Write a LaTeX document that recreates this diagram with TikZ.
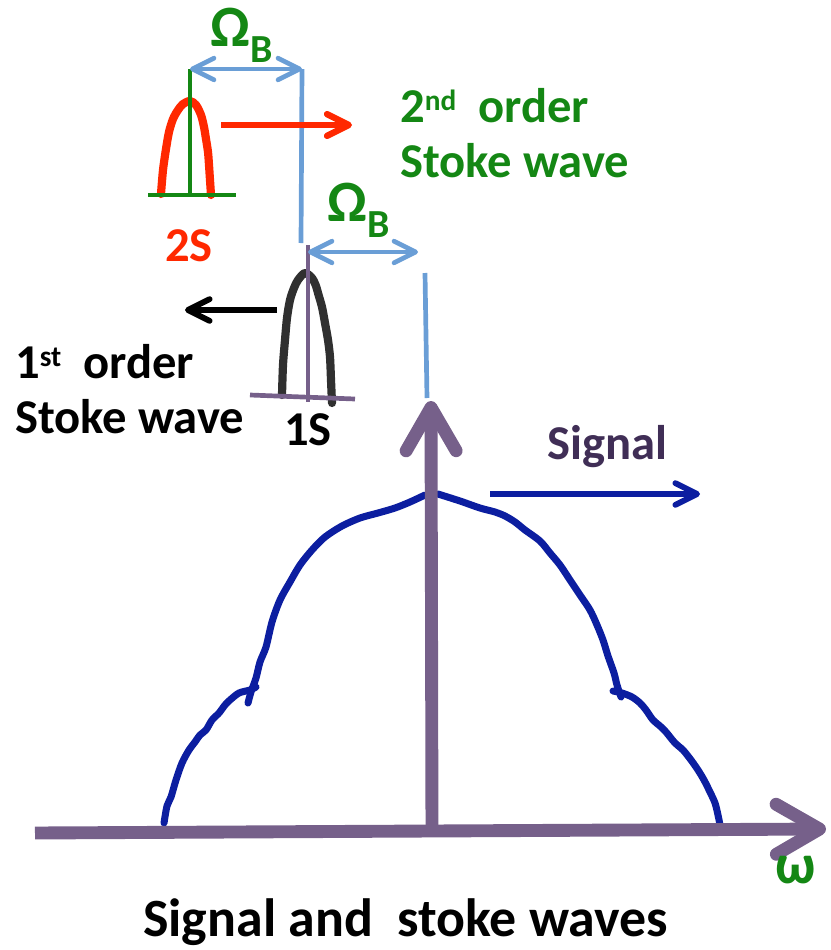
\documentclass[tikz,border=0pt]{standalone}
\usepackage{fontspec}
\setmainfont{Carlito}
\usetikzlibrary{arrows.meta}

\definecolor{sbsgreen}{RGB}{20,135,20}
\definecolor{sbsred}{RGB}{255,40,0}
\definecolor{sbssky}{RGB}{106,158,214}
\definecolor{sbspurple}{RGB}{118,96,138}
\definecolor{sbsblue}{RGB}{12,30,160}
\definecolor{sbsink}{RGB}{64,46,86}
\definecolor{sbsgray}{RGB}{48,48,48}

\newcommand{\omB}{{\fontsize{50}{50}\selectfont Ω}\raisebox{-14pt}{\fontsize{34}{34}\selectfont B}}
\newcommand{\sups}[1]{\raisebox{10pt}{\fontsize{25}{25}\selectfont #1}}

\begin{document}
\begin{tikzpicture}[x=0.03cm,y=-0.03cm,
  lbl/.style={inner sep=0pt,anchor=base west,font=\bfseries\fontsize{41.5}{48}\selectfont},
  barb/.style={-{Straight Barb[length=6.5mm,width=6.5mm,round]}},
  gapline/.style={draw=sbssky,line width=4pt,{Straight Barb[length=6.5mm,width=6.5mm,round]}-{Straight Barb[length=6.5mm,width=6.5mm,round]}},
  axisline/.style={draw=sbspurple,line width=11pt,-{Straight Barb[length=13mm,width=15mm,round]}},
  pulse/.style={line width=7pt,line cap=round,line join=round},
]
\useasboundingbox (0,0) rectangle (830,950);

% points
\coordinate (origin) at (432,836);
\coordinate (wleft) at (35,833);
\coordinate (wright) at (826,829);
\coordinate (wtop) at (431,401);
\coordinate (s2top) at (190,69);
\coordinate (s2bot) at (190,195);
\coordinate (s2baseL) at (148,195);
\coordinate (s2baseR) at (236,195);
\coordinate (s1top) at (308,245);
\coordinate (s1bot) at (308,402);
\coordinate (s1baseL) at (250,395);
\coordinate (s1baseR) at (355,399);
\coordinate (markA) at (302,69);
\coordinate (markAbot) at (301,243);
\coordinate (gapB1) at (308,252);
\coordinate (gapB2) at (418,252);
\coordinate (markB) at (425,273);
\coordinate (markBbot) at (427,398);

% signal spectrum
\draw[sbsblue,pulse,line width=6pt] plot[smooth] coordinates {(164,823) (167,806) (171,797) (176,780) (182,763) (189,750) (195,742) (200,735) (206,730) (212,720) (219,713) (225,705) (230,700) (239,693) (250,690) (256,687)};
\draw[sbsblue,pulse,line width=6pt] plot[smooth] coordinates {(248,703) (251,692) (256,678) (260,662) (266,647) (272,622) (280,600) (290,582) (300,565) (312,550) (325,537) (342,526) (360,518) (378,513) (395,508) (410,502) (425,495)};
\draw[sbsblue,pulse,line width=6pt] plot[smooth] coordinates {(438,494) (460,501) (480,508) (495,512) (505,516) (515,522) (525,530) (540,541) (550,553) (560,565) (570,580) (580,595) (590,610) (597,625) (603,640) (608,656) (614,673) (617,685) (621,697)};
\draw[sbsblue,pulse,line width=6pt] plot[smooth] coordinates {(613,691) (622,693) (632,697) (640,703) (646,710) (653,720) (660,726) (666,732) (675,743) (683,750) (691,760) (698,770) (704,780) (710,792) (715,803) (718,815) (721,830)};

% axes
\draw[axisline] (wleft) -- (wright);
\draw[axisline] (origin) -- (wtop);

% 2nd order stokes line
\draw[sbsred,pulse] plot[smooth] coordinates {(161,194) (163,170) (166,149) (169,132) (173,119) (178,110) (183,104) (190,101) (196,105) (201,115) (204,127) (206,139) (208,152) (209,165) (210,180) (211,195)};
\draw[sbsgreen,line width=4pt] (s2top) -- (s2bot);
\draw[sbsgreen,line width=4pt] (s2baseL) -- (s2baseR);

% 1st order stokes line
\draw[sbsgray,pulse] plot[smooth] coordinates {(282,395) (283,365) (285,340) (287,318) (290,300) (294,288) (298,280) (305,273) (312,278) (316,286) (318,293) (322,307) (325,323) (328,340) (330,357) (331,380) (332,403)};
\draw[sbspurple,line width=4pt] (s1top) -- (s1bot);
\draw[sbspurple,line width=4pt] (s1baseL) -- (s1baseR);

% Brillouin shifts
\draw[sbssky,line width=4pt] (markA) -- (markAbot);
\draw[sbssky,line width=4pt] (markB) -- (markBbot);
\draw[gapline] (s2top) -- (markA);
\draw[gapline] (gapB1) -- (gapB2);

% directions
\coordinate (redA) at (221,125);
\coordinate (redB) at (352,125);
\coordinate (blkA) at (277,310);
\coordinate (blkB) at (185,310);
\coordinate (sigA) at (490,494);
\coordinate (sigB) at (700,494);
\draw[barb,sbsred,line width=5.5pt] (redA) -- (redB);
\draw[barb,black,line width=5pt] (blkA) -- (blkB);
\draw[barb,sbsblue,line width=5pt] (sigA) -- (sigB);

% labels
\node[lbl,text=sbsgreen] (omegaA) at (210,46) {\omB};
\node[lbl,text=sbsgreen] (omegaB) at (327,221) {\omB};
\node[lbl,text=sbsgreen] (ord2a) at (400,122) {2\sups{nd}\ \ order};
\node[lbl,text=sbsgreen] (ord2b) at (400,177) {Stoke wave};
\node[lbl,text=sbsred] (lab2S) at (165,261) {2S};
\node[lbl,text=black] (ord1a) at (15,378) {1\sups{st}\ \ order};
\node[lbl,text=black] (ord1b) at (15,433) {Stoke wave};
\node[lbl,text=black] (lab1S) at (284,445) {1S};
\node[lbl,text=sbsink] (labsig) at (547,459) {Signal};
\node[lbl,text=sbsgreen,font=\bfseries\fontsize{48}{48}\selectfont] (labw) at (775,883) {ω};
\node[lbl,font=\bfseries\fontsize{46}{54}\selectfont] (title) at (143,936) {Signal and\ \ stoke waves};
\end{tikzpicture}
\end{document}
